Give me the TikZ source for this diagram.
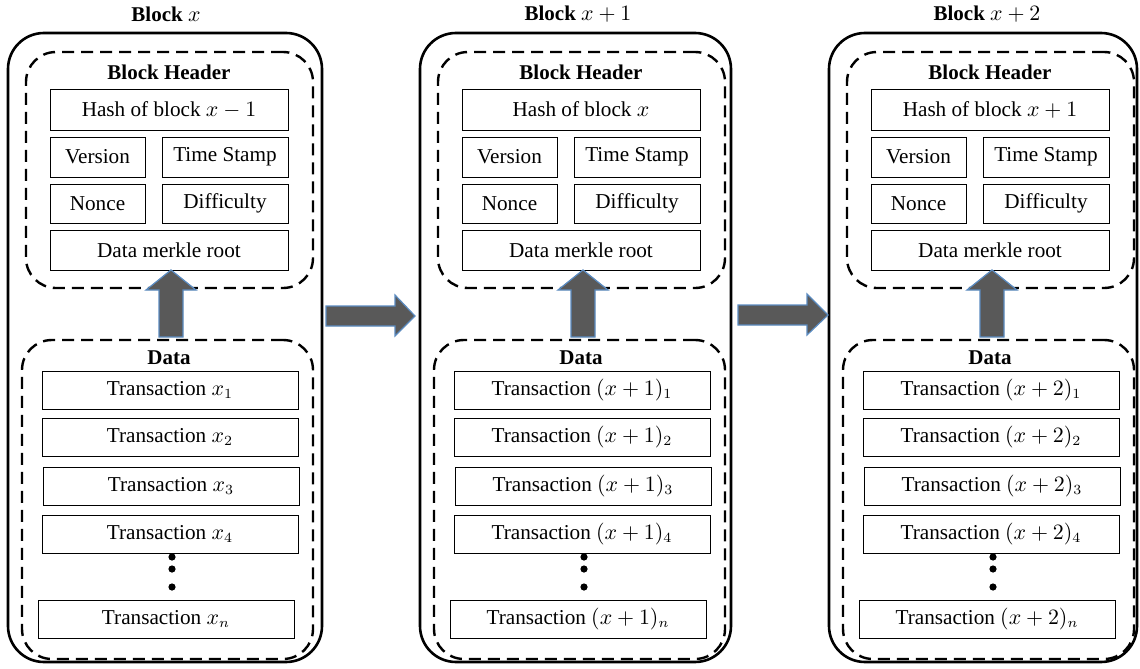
\documentclass[tikz,border=0pt]{standalone}
\usepackage{fontspec}
\setmainfont{Liberation Serif}
\definecolor{arrowfill}{HTML}{595959}
\definecolor{arrowline}{HTML}{5B8BC0}
\tikzset{
  outerbox/.style={draw, line width=1.3pt, rounded corners=18pt, inner sep=0pt, outer sep=0pt},
  dashbox/.style={draw, line width=1.2pt, dash pattern=on 6pt off 3.5pt, rounded corners=15pt, inner sep=0pt, outer sep=0pt},
  field/.style={draw, line width=0.5pt, inner sep=0pt, outer sep=0pt, font=\fontsize{10.6}{12}\selectfont},
  ttl/.style={font=\bfseries\fontsize{10.5}{12}\selectfont, inner sep=0pt},
  bigarrow/.style={fill=arrowfill, draw=arrowline, line width=0.6pt, line join=miter},
}
\newcommand\bx[7]{\node[#1, minimum width={(#5-#3)*0.5pt}, minimum height={(#6-#4)*0.5pt}] (#2) at ({(#3+#5)/2},{(#4+#6)/2}) {#7};}
% #1 offset, #2 prefix, #3 title, #4 hash text, #5 tx base, #6 outer right edge
\newcommand\blk[6]{%
\begin{scope}[shift={(#1,0)}]
\bx{outerbox}{#2outer}{8}{33}{#6}{662}{}
\node[ttl] (#2title) at (166,14) {#3};
\bx{dashbox}{#2head}{26}{52}{313}{288}{}
\node[ttl] (#2headlbl) at (169,72) {Block Header};
\bx{field}{#2hash}{50}{89}{288}{130}{#4}
\bx{field}{#2ver}{50}{137}{145}{177}{Version}
\bx{field}{#2time}{162}{137}{288}{177}{Time Stamp}
\bx{field}{#2nonce}{50}{184}{145}{223}{Nonce}
\bx{field}{#2diff}{162}{184}{288}{223}{Difficulty}
\bx{field}{#2merkle}{50}{230}{288}{270}{Data merkle root}
\bx{dashbox}{#2data}{22}{340}{313}{659}{}
\node[ttl] (#2datalbl) at (169,358) {Data};
\bx{field}{#2tx1}{42}{371}{298}{409}{Transaction $#5_1$}
\bx{field}{#2tx2}{42}{418}{298}{456}{Transaction $#5_2$}
\bx{field}{#2tx3}{43}{467}{299}{505}{Transaction $#5_3$}
\bx{field}{#2tx4}{42}{515}{298}{553}{Transaction $#5_4$}
\bx{field}{#2txn}{38}{600}{294}{638}{Transaction $#5_n$}
\fill (172,557) circle (3.6);
\fill (172,569) circle (3.6);
\fill (172,587) circle (3.6);
\coordinate (#2up) at (171,337);
\draw[bigarrow] (#2up) -- (159,337) -- (159,290) -- (146,290) -- (#2merkle.south -| #2up) -- (196,290) -- (183,290) -- (183,337) -- cycle;
\end{scope}}
\begin{document}
\begin{tikzpicture}[x=0.5pt,y=-0.5pt]
\useasboundingbox (0,0) rectangle (1140,669);
\blk{0}{a}{Block $x$}{Hash of block $x-1$}{x}{322}
\blk{412}{b}{Block $x+1$}{Hash of block $x$}{(x+1)}{319}
\blk{821}{c}{Block $x+2$}{Hash of block $x+1$}{(x+2)}{316}
\coordinate (ab) at (326,316);
\coordinate (abtip) at (415,316);
\draw[bigarrow] (ab) -- (326,306) -- (395,306) -- (395,295) -- (abtip) -- (395,336) -- (395,326) -- (326,326) -- cycle;
\coordinate (bc) at (738,315);
\coordinate (bctip) at (828,315);
\draw[bigarrow] (bc) -- (738,305) -- (807,305) -- (807,294) -- (bctip) -- (807,335) -- (807,325) -- (738,325) -- cycle;
\end{tikzpicture}
\end{document}
